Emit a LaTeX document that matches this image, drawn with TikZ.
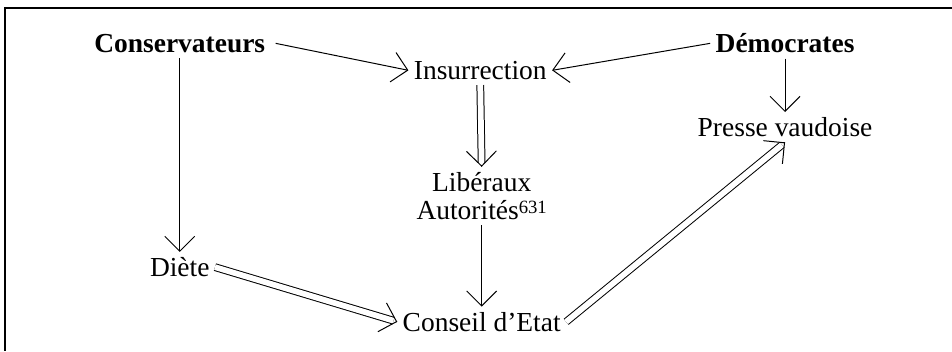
\documentclass[tikz,border=0pt]{standalone}
\usepackage{fontspec}
\setmainfont{Liberation Serif}
\usepackage{tikz}
\usetikzlibrary{positioning,arrows.meta,calc}

\begin{document}
\begin{tikzpicture}[
    actor/.style={inner sep=2pt, font=\fontsize{11pt}{11pt}\selectfont\bfseries},
    place/.style={inner sep=2pt, align=center, font=\fontsize{11pt}{11.3pt}\selectfont},
    arrow/.style={-{Straight Barb[length=6pt, width=12pt]}, thin},
    doubleline/.style={thin, double, double distance=2.3pt, shorten >=1.6pt},
]

% --- FRAME (only top and left edges show) ---
\useasboundingbox (0, 0) rectangle (13.4, -4.941);
\draw[line width=0.6pt] (13.4, -0.113) -- (0.07, -0.113) -- (0.07, -4.941);

% --- ROW 1: PARTIES ---
\node[actor] (Cons) at (2.53, -0.61) {Conservateurs};
\node[actor] (Dem)  at (11.05, -0.61) {Démocrates};

% --- ROW 2 ---
\node[place] (Ins)    at (6.76, -0.99) {Insurrection};
\node[place] (Presse) at (11.05, -1.79) {Presse vaudoise};

% --- ROW 3 ---
\node[place] (Lib) at (6.78, -2.76) {Libéraux\\Autorités\raisebox{2.6pt}{\fontsize{7.5pt}{7.5pt}\selectfont 631}};

% --- ROW 4 ---
\node[place] (Diete)   at (2.53, -3.76) {Diète};
\node[place] (Conseil) at (6.78, -4.53) {Conseil d’Etat};

% =======================================================================
% SIMPLE ARROWS
% =======================================================================
\draw[arrow] ([xshift=2pt]Cons.east) -- (Ins.west);
\draw[arrow] (Dem.west) -- (Ins.east);
\draw[arrow] (Cons.south) -- (Diete.north);
\draw[arrow] (Dem.south) -- (Presse.north);
\draw[arrow] (Lib.south) -- (Conseil.north);

% =======================================================================
% DOUBLE ARROWS (double line + open tip on top)
% =======================================================================
\draw[doubleline] (Ins.south) -- (Lib.north);
\draw[arrow] ($(Ins.south)!0.999!(Lib.north)$) -- (Lib.north);

\draw[doubleline] (Diete.east) -- (Conseil.west);
\draw[arrow] ($(Diete.east)!0.999!(Conseil.west)$) -- (Conseil.west);

\draw[doubleline] (Conseil.east) -- (Presse.south);
\draw[arrow] ($(Conseil.east)!0.999!(Presse.south)$) -- (Presse.south);

\end{tikzpicture}
\end{document}
